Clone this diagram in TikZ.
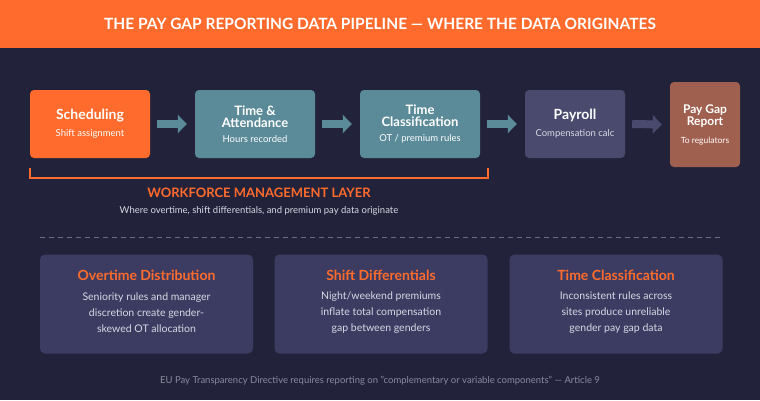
\documentclass[tikz,border=0pt]{standalone}
\usepackage{fontspec}
\setmainfont{Lato}
\usetikzlibrary{arrows.meta}
\definecolor{bg}{HTML}{22223A}
\definecolor{org}{HTML}{FF6B2C}
\definecolor{teal}{HTML}{5B8A99}
\definecolor{pay}{HTML}{4A4A6E}
\definecolor{brn}{HTML}{A0604F}
\definecolor{card}{HTML}{3C3C62}
\definecolor{sub}{HTML}{D8D8E4}
\definecolor{foot}{HTML}{8A8AA0}
\tikzset{
 stage/.style={rounded corners=4pt,draw=none,text=white,align=center,inner sep=0pt},
 flow/.style={-{Triangle[length=9pt,width=18pt]},line width=8pt},
 card/.style={rounded corners=5pt,fill=card,draw=none},
}
\begin{document}
\begin{tikzpicture}[x=1pt,y=-1pt]
\fill[bg] (0,0) rectangle (760,400);
\fill[org] (0,0) rectangle (760,48);
\node[text=white,font=\bfseries\fontsize{15.5}{18}\selectfont] (title) at (380,24) {THE PAY GAP REPORTING DATA PIPELINE — WHERE THE DATA ORIGINATES};
\node[stage,fill=org,minimum width=120pt,minimum height=68pt] (s1) at (90,124) {{\bfseries\fontsize{14}{17}\selectfont Scheduling}\\[5pt]{\fontsize{9.5}{12}\selectfont Shift assignment}};
\node[stage,fill=teal,minimum width=120pt,minimum height=68pt] (s2) at (255,124) {{\bfseries\fontsize{13}{16}\selectfont Time \&}\\{\bfseries\fontsize{13}{16}\selectfont Attendance}\\[3pt]{\fontsize{9.5}{12}\selectfont Hours recorded}};
\node[stage,fill=teal,minimum width=120pt,minimum height=68pt] (s3) at (420,124) {{\bfseries\fontsize{13}{16}\selectfont Time}\\{\bfseries\fontsize{13}{16}\selectfont Classification}\\[3pt]{\fontsize{9.5}{12}\selectfont OT / premium rules}};
\node[stage,fill=pay,minimum width=100pt,minimum height=68pt] (s4) at (575,124) {{\bfseries\fontsize{14}{17}\selectfont Payroll}\\[5pt]{\color{sub}\fontsize{9.5}{12}\selectfont Compensation calc}};
\node[stage,fill=brn,minimum width=70pt,minimum height=85pt] (s5) at (705,124.5) {{\bfseries\fontsize{12}{15}\selectfont Pay Gap}\\{\bfseries\fontsize{12}{15}\selectfont Report}\\[6pt]{\fontsize{8.5}{10}\selectfont To regulators}};
\draw[flow,teal] ([xshift=7pt]s1.east) -- ([xshift=-8pt]s2.west);
\draw[flow,teal] ([xshift=7pt]s2.east) -- ([xshift=-8pt]s3.west);
\draw[flow,teal] ([xshift=7pt]s3.east) -- ([xshift=-8pt]s4.west);
\draw[flow,pay] ([xshift=7pt]s4.east) -- ([xshift=-8pt]s5.west);
\coordinate (b1) at (30,168); \coordinate (b2) at (488,168);
\coordinate (b3) at (30,178); \coordinate (b4) at (488,178);
\draw[org,line width=1.3pt] (b1) -- (b3) -- (b4) -- (b2);
\node[text=org,font=\bfseries\fontsize{13}{15}\selectfont] (wl) at (259,193) {WORKFORCE MANAGEMENT LAYER};
\node[text=sub,font=\fontsize{9.5}{11}\selectfont] (ws) at (259,211) {Where overtime, shift differentials, and premium pay data originate};
\coordinate (d1) at (40,237); \coordinate (d2) at (720,237);
\draw[foot!70!bg,dash pattern=on 5pt off 4pt,line width=0.8pt] (d1) -- (d2);
\foreach \n/\x/\t/\a/\b/\c in {c1/146.5/Overtime Distribution/Seniority rules and manager/discretion create gender-/skewed OT allocation,
 c2/381/Shift Differentials/Night\slash weekend premiums/inflate total compensation/gap between genders,
 c3/616/Time Classification/Inconsistent rules across/sites produce unreliable/gender pay gap data}{
 \node[card,minimum width=213pt,minimum height=99pt] (\n) at (\x,304) {};
 \node[text=org,font=\bfseries\fontsize{14}{16}\selectfont] (\n t) at (\x,275) {\t};
 \node[text=sub,align=center,font=\fontsize{10.5}{16}\selectfont] (\n b) at (\x,313) {\a\\\b\\\c};
}
\node[text=foot,font=\fontsize{9.5}{11}\selectfont] (ft) at (380,381) {EU Pay Transparency Directive requires reporting on "complementary or variable components" — Article 9};
\end{tikzpicture}
\end{document}
